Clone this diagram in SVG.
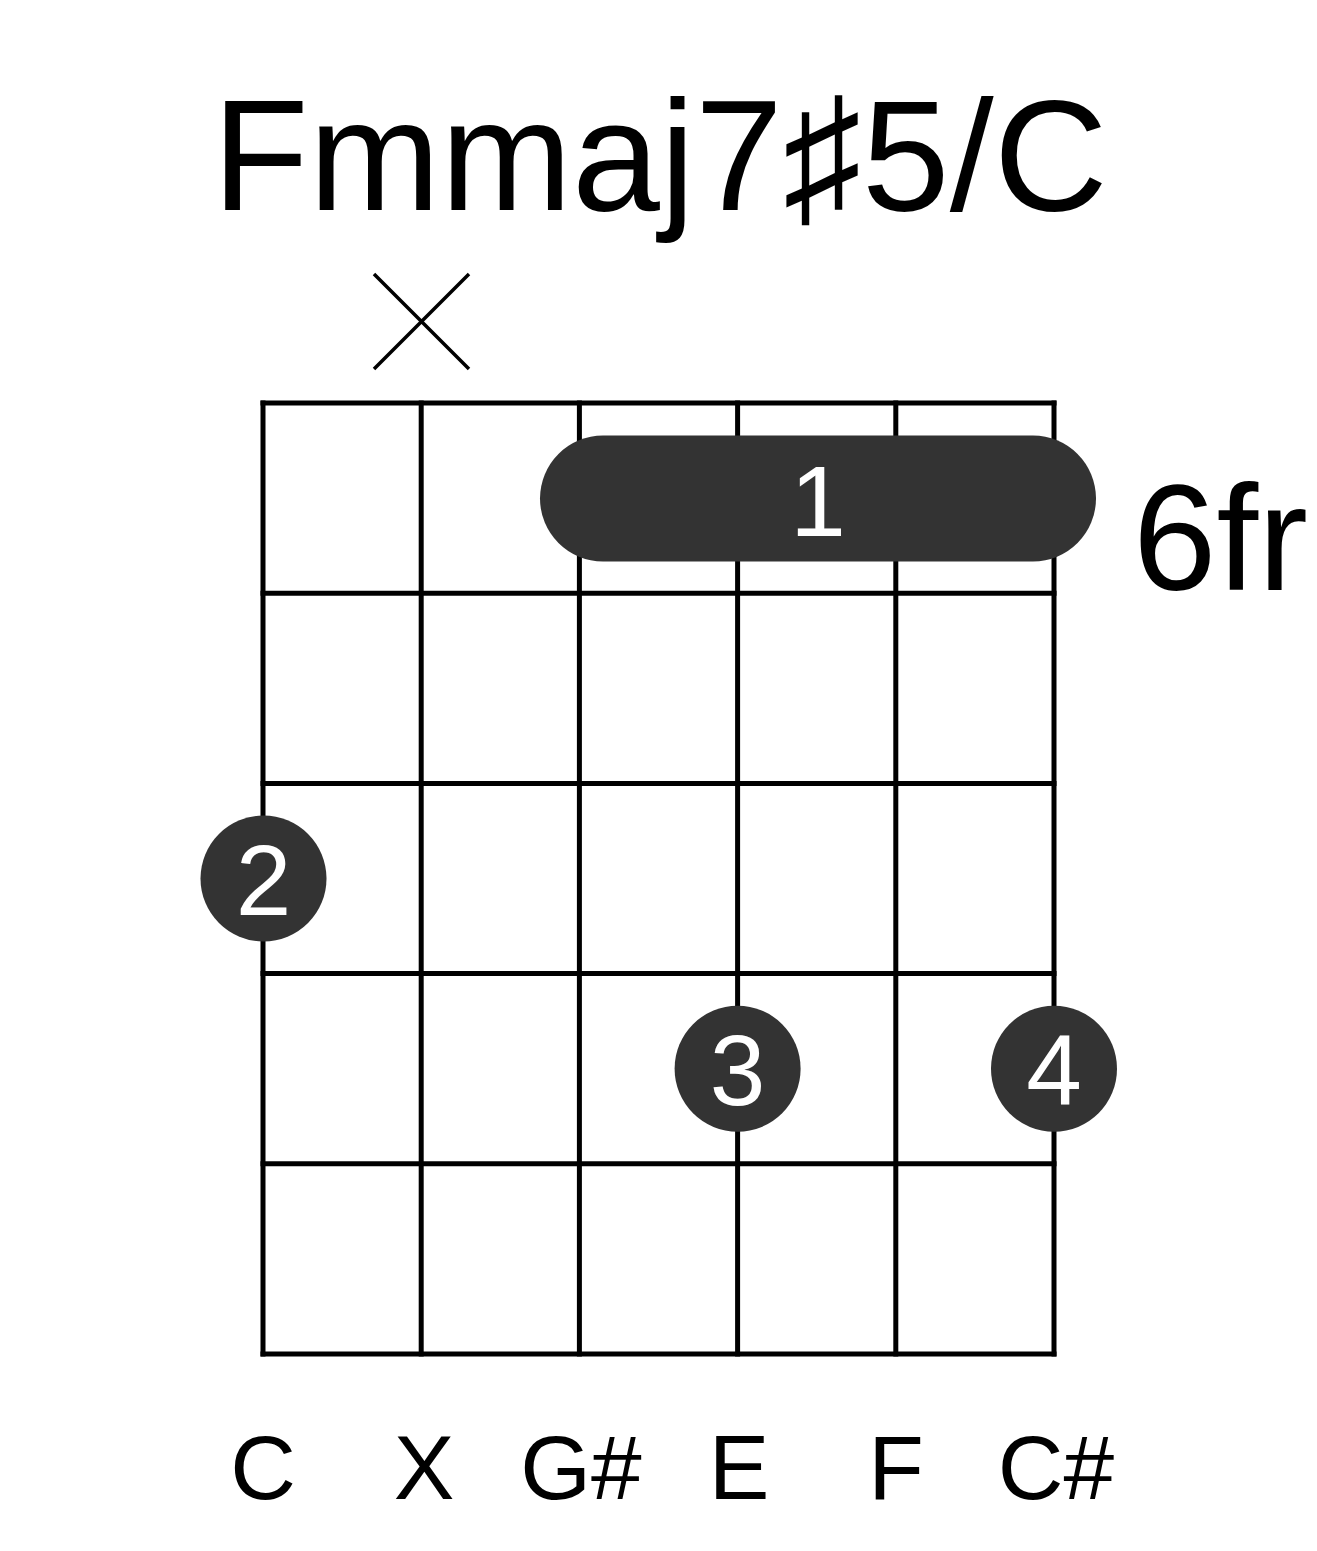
<svg xmlns="http://www.w3.org/2000/svg" width="1317" height="1551" viewBox="0 0 1317 1551">
<style>
text{font-family:"Liberation Sans","DejaVu Sans",Arial,sans-serif}
.grid line{stroke:#000;stroke-width:5;stroke-linecap:square}
.dot{fill:#333}
.fn{fill:#fff;font-size:100px;text-anchor:middle}
.lbl{fill:#000;font-size:91px;text-anchor:middle}
</style>
<rect width="1317" height="1551" fill="#fff"/>
<g id="title"><text x="660" y="210" font-size="158" text-anchor="middle">Fmmaj7♯5/C</text></g>
<g id="grid" class="grid">
<line x1="263" y1="403" x2="1054" y2="403"/>
<line x1="263" y1="593.2" x2="1054" y2="593.2"/>
<line x1="263" y1="783.4" x2="1054" y2="783.4"/>
<line x1="263" y1="973.6" x2="1054" y2="973.6"/>
<line x1="263" y1="1163.8" x2="1054" y2="1163.8"/>
<line x1="263" y1="1354" x2="1054" y2="1354"/>
<line x1="263" y1="403" x2="263" y2="1354"/>
<line x1="421.2" y1="403" x2="421.2" y2="1354"/>
<line x1="579.4" y1="403" x2="579.4" y2="1354"/>
<line x1="737.6" y1="403" x2="737.6" y2="1354"/>
<line x1="895.8" y1="403" x2="895.8" y2="1354"/>
<line x1="1054" y1="403" x2="1054" y2="1354"/>
</g>
<g id="mute"><path d="M374 274 L469 369 M469 274 L374 369" stroke="#000" stroke-width="3.5" fill="none"/></g>
<g id="barre"><rect class="dot" x="540" y="435.5" width="556" height="126" rx="63"/><text class="fn" x="818" y="536">1</text></g>
<g id="finger2"><circle class="dot" cx="263.5" cy="878.5" r="63"/><text class="fn" x="263.5" y="915">2</text></g>
<g id="finger3"><circle class="dot" cx="737.6" cy="1068.7" r="63"/><text class="fn" x="737.6" y="1105">3</text></g>
<g id="finger4"><circle class="dot" cx="1054" cy="1068.7" r="63"/><text class="fn" x="1054" y="1105">4</text></g>
<g id="fret-label"><text x="1133" y="590" font-size="150">6fr</text></g>
<g id="notes">
<text class="lbl" x="263" y="1499">C</text>
<text class="lbl" x="424" y="1499">X</text>
<text class="lbl" x="581" y="1499">G#</text>
<text class="lbl" x="739" y="1499">E</text>
<text class="lbl" x="896" y="1499">F</text>
<text class="lbl" x="1056" y="1499">C#</text>
</g>
</svg>
